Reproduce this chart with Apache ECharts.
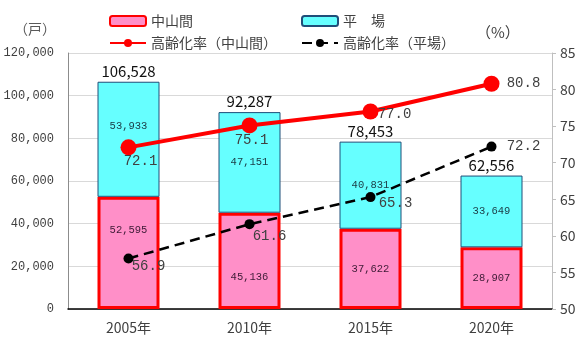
<!DOCTYPE html>
<html>
<head>
<meta charset="utf-8">
<script src="https://cdn.jsdelivr.net/npm/echarts@6/dist/echarts.min.js"></script>
<style>
  html, body { margin: 0; padding: 0; background: #fff; }
  #chart { width: 587px; height: 338px; }
</style>
</head>
<body>
<div id="chart"></div>
<script>
// Farm households by area type, with ageing rate
const years = ['2005年', '2010年', '2015年', '2020年'];
const mountainHouseholds = [52595, 45136, 37622, 28907];   // 中山間
const plainHouseholds = [53933, 47151, 40831, 33649];      // 平場
const totalHouseholds = [106528, 92287, 78453, 62556];
const ageingMountain = [72.1, 75.1, 77.0, 80.8];
const ageingPlain = [56.9, 61.6, 65.3, 72.2];
const leftTicks = [0, 20000, 40000, 60000, 80000, 100000, 120000];
const rightTicks = [50, 55, 60, 65, 70, 75, 80, 85];

// label offsets (pixels) so values clear the rate lines
const mountainBarShift = [[0, -23], [0, 16], [0, 0], [0, 0]];
const plainBarShift = [[0, -13], [0, 0], [0, 0], [0, 0]];
const mountainLabelShift = [[12, 14], [2, 15], [24, 3], [32, 0]];
const plainLabelShift = [[20, 8], [20, 12], [25, 6], [32, 0]];

const fmt = v => v.toLocaleString('en-US');
const jp = '"Noto Sans CJK JP", "Noto Sans", sans-serif';
const mono = '"Liberation Mono", "DejaVu Sans Mono", monospace';

const chart = echarts.init(document.getElementById('chart'));

function shifted(values, shifts) {
  return values.map((v, i) => ({
    value: v,
    label: { offset: shifts[i] }
  }));
}

const option = {
  animation: false,
  grid: { left: 68, right: 35, top: 53, bottom: 29 },
  legend: [
    { data: ['中山間'], left: 104, top: 9 },
    { data: ['平　場'], left: 296, top: 9 },
    { data: ['高齢化率（中山間）'], left: 104, top: 31 },
    { data: ['高齢化率（平場）'], left: 296, top: 31 }
  ].map(l => Object.assign({
    itemWidth: 36, itemHeight: 10, itemGap: 4,
    textStyle: { fontFamily: jp, fontSize: 14, color: '#404040' }
  }, l)),
  graphic: [
    { type: 'text', left: 14, top: 22, style: { text: '（戸）', font: '14px ' + jp, fill: '#595959' } },
    { type: 'text', left: 476, top: 25, style: { text: '（%）', font: '15px ' + jp, fill: '#404040' } }
  ],
  xAxis: {
    type: 'category',
    data: years,
    axisTick: { show: false },
    axisLine: { lineStyle: { color: '#000', width: 1.5 } },
    axisLabel: { fontFamily: jp, fontSize: 14, color: '#404040', margin: 12 }
  },
  yAxis: [
    {
      type: 'value', min: leftTicks[0], max: leftTicks[leftTicks.length - 1], interval: 20000,
      axisLine: { show: true, lineStyle: { color: '#8c8c8c' } },
      axisTick: { show: false },
      splitLine: { lineStyle: { color: '#d9d9d9' } },
      axisLabel: { fontFamily: mono, fontSize: 12, color: '#404040', margin: 14, formatter: fmt }
    },
    {
      type: 'value', min: rightTicks[0], max: rightTicks[rightTicks.length - 1], interval: 5,
      position: 'right',
      axisLine: { show: true, lineStyle: { color: '#bfbfbf' } },
      axisTick: { show: true, length: 4, lineStyle: { color: '#bfbfbf' } },
      splitLine: { show: false },
      axisLabel: { fontFamily: jp, fontSize: 14, color: '#404040', margin: 8 }
    }
  ],
  series: [
    {
      name: '中山間', type: 'bar', stack: 'households', barWidth: 62,
      data: shifted(mountainHouseholds, mountainBarShift),
      itemStyle: { color: '#ff8fc8', borderColor: '#ff0000', borderWidth: 3 },
      label: { show: true, position: 'inside', formatter: p => fmt(p.value),
               fontFamily: mono, fontSize: 10.5, color: '#3c1a35' }
    },
    {
      name: '平　場', type: 'bar', stack: 'households', barWidth: 62,
      data: shifted(plainHouseholds, plainBarShift),
      itemStyle: { color: '#66ffff', borderColor: '#1f4e79', borderWidth: 1 },
      label: { show: true, position: 'inside', formatter: p => fmt(p.value),
               fontFamily: mono, fontSize: 10.5, color: '#1b3a44' }
    },
    {
      // zero-height cap that carries the stack total
      name: 'total', type: 'bar', stack: 'households', barWidth: 62,
      data: years.map(() => 0),
      itemStyle: { color: 'transparent' },
      label: { show: true, position: 'top', distance: 3,
               formatter: p => fmt(totalHouseholds[p.dataIndex]),
               fontFamily: jp, fontSize: 15, color: '#111' },
      tooltip: { show: false }
    },
    {
      name: '高齢化率（中山間）', type: 'line', yAxisIndex: 1,
      data: shifted(ageingMountain, mountainLabelShift),
      lineStyle: { color: '#ff0000', width: 4 },
      itemStyle: { color: '#ff0000' },
      symbol: 'circle', symbolSize: 16,
      label: { show: true, position: 'inside', align: 'center', verticalAlign: 'middle',
               formatter: p => p.value.toFixed(1),
               fontFamily: mono, fontSize: 14, color: '#404040' },
      z: 5
    },
    {
      name: '高齢化率（平場）', type: 'line', yAxisIndex: 1,
      data: shifted(ageingPlain, plainLabelShift),
      lineStyle: { color: '#000', width: 2.5, type: [10, 6] },
      itemStyle: { color: '#000' },
      symbol: 'circle', symbolSize: 10,
      label: { show: true, position: 'inside', align: 'center', verticalAlign: 'middle',
               formatter: p => p.value.toFixed(1),
               fontFamily: mono, fontSize: 14, color: '#404040' },
      z: 5
    }
  ]
};

chart.setOption(option);
</script>
</body>
</html>
